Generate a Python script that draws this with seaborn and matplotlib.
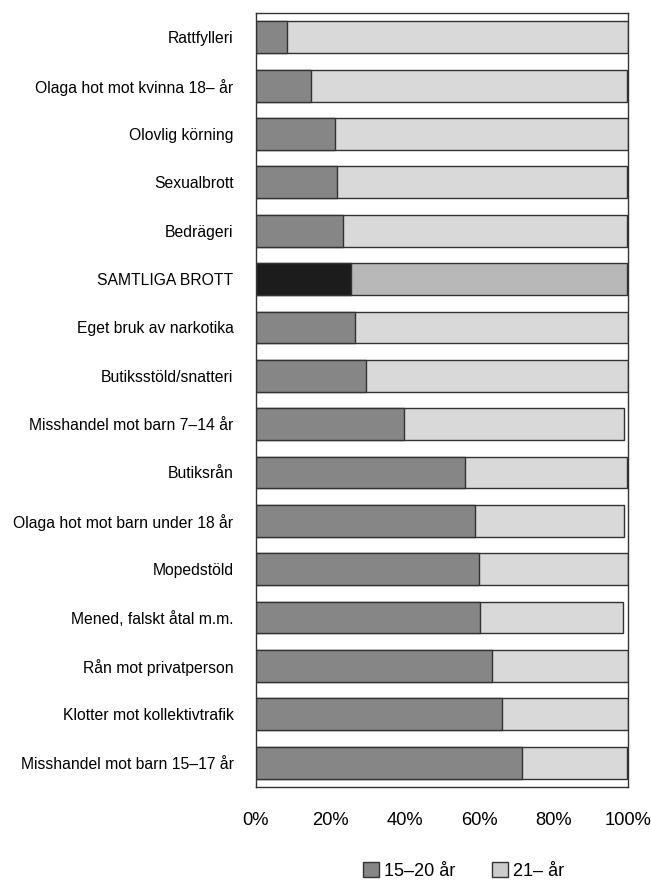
import pandas as pd
import matplotlib.pyplot as plt
import seaborn as sns
from matplotlib.patches import Patch

# Data (share of suspects, %)
categories = [
    "Rattfylleri", "Olaga hot mot kvinna 18– år", "Olovlig körning", "Sexualbrott",
    "Bedrägeri", "SAMTLIGA BROTT", "Eget bruk av narkotika", "Butiksstöld/snatteri",
    "Misshandel mot barn 7–14 år", "Butiksrån", "Olaga hot mot barn under 18 år",
    "Mopedstöld", "Mened, falskt åtal m.m.", "Rån mot privatperson",
    "Klotter mot kollektivtrafik", "Misshandel mot barn 15–17 år",
]
age_15_20 = [8.4, 14.8, 21.2, 21.7, 23.3, 25.5, 26.5, 29.7,
             39.7, 56.2, 58.8, 59.9, 60.3, 63.4, 66.2, 71.5]
age_21 = [91.6, 84.8, 78.8, 77.9, 76.3, 74.1, 73.5, 70.3,
          59.3, 43.4, 40.2, 40.1, 38.2, 36.6, 33.8, 28.1]
series_labels = ["15–20 år", "21– år"]

df = pd.DataFrame({"kategori": categories, "ung": age_15_20, "aldre": age_21})
df["total"] = df["ung"] + df["aldre"]

sns.set_style("white")
plt.rcParams["font.family"] = ["Liberation Sans", "DejaVu Sans"]
plt.rcParams["text.color"] = "black"
plt.rcParams["xtick.color"] = "black"
plt.rcParams["ytick.color"] = "black"

dark, light = "#868686", "#d9d9d9"
dark_all, light_all = "#1c1c1c", "#b8b8b8"
dark_cols = [dark_all if c == "SAMTLIGA BROTT" else dark for c in categories]
light_cols = [light_all if c == "SAMTLIGA BROTT" else light for c in categories]

fig = plt.figure(figsize=(6.51, 8.81), dpi=100)
ax = fig.add_axes([0.393, 0.107, 0.572, 0.878])

# light segment drawn as full total, dark segment on top
sns.barplot(data=df, x="total", y="kategori", hue="kategori", palette=light_cols,
            orient="h", width=0.66, edgecolor="#333333", linewidth=1.0,
            legend=False, ax=ax)
sns.barplot(data=df, x="ung", y="kategori", hue="kategori", palette=dark_cols,
            orient="h", width=0.66, edgecolor="#333333", linewidth=1.0,
            legend=False, ax=ax)

ax.set_xlim(0, 100)
ax.set_ylim(15.5, -0.5)
ax.set_xticks(range(0, 101, 20))
ax.set_xticklabels([f"{v}%" for v in range(0, 101, 20)], fontsize=13.2)
ax.tick_params(axis="x", direction="out", length=5, width=1, color="#333333", pad=13)
ax.tick_params(axis="y", length=0, pad=16, labelsize=11.3)
ax.set_xlabel("")
ax.set_ylabel("")
for s in ax.spines.values():
    s.set_visible(True)
    s.set_color("#333333")
    s.set_linewidth(1.0)

handles = [Patch(facecolor=dark, edgecolor="#333333", label=series_labels[0]),
           Patch(facecolor="#cccccc", edgecolor="#333333", label=series_labels[1])]
fig.legend(handles=handles, loc="center", bbox_to_anchor=(0.712, 0.011), ncol=2,
           frameon=False, fontsize=13, handlelength=0.9, handleheight=0.9,
           handletextpad=0.3, columnspacing=2.0)

fig.savefig("out.png", dpi=100)
